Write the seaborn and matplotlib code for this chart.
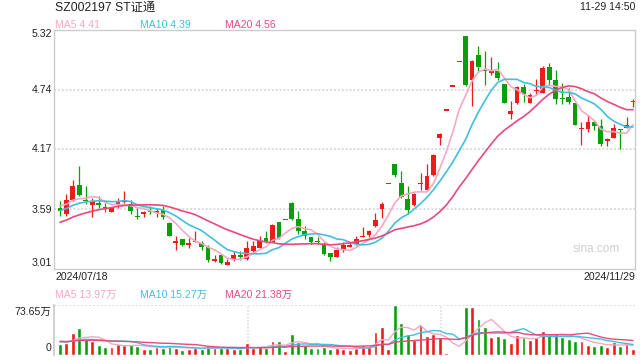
import numpy as np
import pandas as pd
import matplotlib
matplotlib.use("Agg")
import matplotlib.pyplot as plt
import seaborn as sns

TITLE = "SZ002197 ST证通"
STAMP = "11-29 14:50"
START_LABEL = "2024/07/18"
END_LABEL = "2024/11/29"

# daily OHLC, 2024/07/18 .. 2024/11/29
open_ = [3.603, 3.545, 3.673, 3.824, 3.680, 3.625, 3.644, 3.612, 3.561, 3.625,
         3.657, 3.638, 3.519, 3.539, 3.571, 3.555, 3.584, 3.455, 3.263, 3.295,
         3.237, 3.269, 3.263, 3.221, 3.083, 3.147, 3.045, 3.093, 3.147, 3.102,
         3.179, 3.215, 3.308, 3.269, 3.462, 3.482, 3.648, 3.494, 3.375, 3.317,
         3.276, 3.253, 3.167, 3.128, 3.203, 3.225, 3.251, 3.315, 3.341, 3.421,
         3.594, 3.830, 4.021, 3.844, 3.684, 3.626, 3.828, 3.771, 3.915, 4.271,
         4.540, 4.770, 5.010, 5.260, 4.839, 5.073, 4.922, 4.906, 4.919, 4.797,
         4.502, 4.614, 4.765, 4.614, 4.730, 4.710, 4.961, 4.832, 4.655, 4.672,
         4.614, 4.362, 4.358, 4.428, 4.390, 4.245, 4.277, 4.353, 4.374, 4.619]
high = [3.664, 3.737, 3.869, 4.007, 3.814, 3.696, 3.718, 3.648, 3.606, 3.696,
        3.760, 3.680, 3.600, 3.574, 3.616, 3.600, 3.616, 3.465, 3.327, 3.301,
        3.308, 3.381, 3.285, 3.237, 3.147, 3.157, 3.109, 3.179, 3.179, 3.276,
        3.276, 3.333, 3.375, 3.446, 3.468, 3.486, 3.654, 3.574, 3.423, 3.317,
        3.317, 3.269, 3.167, 3.221, 3.267, 3.267, 3.325, 3.418, 3.389, 3.546,
        3.661, 3.830, 4.021, 3.957, 3.812, 3.742, 3.941, 4.021, 4.117, 4.326,
        4.540, 4.770, 5.010, 5.260, 5.028, 5.166, 5.111, 5.054, 5.009, 4.797,
        4.630, 4.775, 4.800, 4.710, 4.845, 4.967, 4.999, 4.935, 4.807, 4.759,
        4.614, 4.428, 4.492, 4.447, 4.454, 4.277, 4.412, 4.358, 4.476, 4.653]
low = [3.526, 3.519, 3.664, 3.712, 3.641, 3.510, 3.600, 3.558, 3.558, 3.600,
       3.650, 3.539, 3.494, 3.513, 3.545, 3.510, 3.494, 3.327, 3.190, 3.231,
       3.215, 3.269, 3.195, 3.077, 3.077, 3.061, 3.045, 3.083, 3.093, 3.093,
       3.173, 3.211, 3.260, 3.269, 3.301, 3.482, 3.487, 3.350, 3.301, 3.253,
       3.247, 3.147, 3.090, 3.125, 3.177, 3.219, 3.244, 3.315, 3.321, 3.411,
       3.507, 3.830, 3.902, 3.700, 3.540, 3.620, 3.774, 3.764, 3.908, 4.207,
       4.540, 4.770, 5.010, 4.775, 4.582, 4.919, 4.784, 4.880, 4.832, 4.614,
       4.454, 4.605, 4.621, 4.614, 4.694, 4.710, 4.791, 4.598, 4.605, 4.605,
       4.396, 4.207, 4.335, 4.348, 4.197, 4.197, 4.271, 4.165, 4.367, 4.573]
close = [3.574, 3.680, 3.814, 3.721, 3.667, 3.670, 3.625, 3.596, 3.603, 3.664,
         3.670, 3.568, 3.510, 3.558, 3.558, 3.561, 3.513, 3.333, 3.279, 3.237,
         3.263, 3.282, 3.221, 3.099, 3.109, 3.070, 3.077, 3.147, 3.122, 3.215,
         3.231, 3.276, 3.276, 3.439, 3.308, 3.486, 3.494, 3.372, 3.324, 3.269,
         3.269, 3.157, 3.128, 3.189, 3.241, 3.231, 3.299, 3.325, 3.373, 3.482,
         3.642, 3.830, 3.915, 3.706, 3.578, 3.732, 3.844, 3.908, 4.107, 4.316,
         4.540, 4.770, 5.010, 4.791, 5.022, 4.961, 4.919, 4.929, 4.855, 4.614,
         4.540, 4.768, 4.701, 4.688, 4.736, 4.951, 4.839, 4.653, 4.651, 4.624,
         4.396, 4.366, 4.431, 4.390, 4.220, 4.268, 4.374, 4.349, 4.399, 4.623]
# volume in 万
volume = [16.0, 17.0, 32.6, 39.4, 23.3, 20.4, 14.6, 11.2, 11.7, 16.0,
          14.1, 16.0, 13.1, 8.7, 9.2, 11.2, 10.7, 14.6, 10.7, 7.3,
          8.7, 10.2, 8.7, 13.1, 9.7, 9.7, 9.7, 8.3, 8.3, 17.5,
          9.7, 13.1, 10.7, 20.4, 20.4, 6.3, 30.6, 19.4, 14.1, 10.7,
          9.7, 12.2, 8.7, 9.7, 8.7, 7.3, 9.7, 14.6, 12.2, 34.0,
          40.8, 8.7, 72.9, 47.2, 30.6, 21.9, 43.7, 27.7, 30.6, 26.2,
          2.9, 1.5, 1.5, 70.0, 70.0, 52.5, 40.8, 26.2, 27.7, 24.8,
          17.5, 29.2, 25.8, 21.9, 25.8, 35.0, 32.1, 32.1, 26.7, 23.3,
          20.4, 20.9, 14.6, 13.1, 14.6, 11.7, 19.4, 13.6, 16.0, 8.7]

# sessions before the window, only feed the moving averages
prev_close = [3.22, 3.25, 3.28, 3.30, 3.33, 3.36, 3.38, 3.40, 3.42, 3.52,
              3.48, 3.50, 3.52, 3.55, 3.59, 3.60, 3.62, 3.65, 3.654]
prev_volume = [22, 18, 25, 20, 17, 21, 19, 24, 18, 20,
               23, 19, 21, 17, 22, 20, 18, 21, 19]

price_ticks = [5.32, 4.74, 4.17, 3.59, 3.01]
vol_top = 73.65
ma_windows = [5, 10, 20]
ma_colors = ["#f7a8c3", "#40c0de", "#e9497b"]
ma_price_labels = ["MA5 4.41", "MA10 4.39", "MA20 4.56"]
ma_vol_labels = ["MA5 13.97万", "MA10 15.27万", "MA20 21.38万"]

RED = "#ee1b1b"
GREEN = "#0b9e0b"
GRID = "#dcdcdc"
FRAME = "#cccccc"

sns.set_theme(style="white")
plt.rcParams["font.family"] = ["Liberation Sans", "Noto Sans CJK SC"]


def moving_averages(prev, values):
    s = pd.Series(list(prev) + list(values), dtype=float)
    n = len(values)
    return {w: s.rolling(w).mean().to_numpy()[-n:] for w in ma_windows}


def px(x, y):
    return x / 640, 1 - y / 360


def main():
    n = len(close)
    idx = np.arange(n)
    o = np.array(open_)
    c = np.array(close)
    up = c >= o
    colors = np.where(up, RED, GREEN)

    fig = plt.figure(figsize=(6.4, 3.6), dpi=100)
    ax = fig.add_axes([54 / 640, 91 / 360, 581 / 640, 239.3 / 360])
    axv = fig.add_axes([54 / 640, 5 / 360, 581 / 640, 50.5 / 360])

    # price panel
    for t in price_ticks[1:-1]:
        ax.axhline(t, color=GRID, lw=1.4, ls=(0, (1, 1)), zorder=0)
    ax.vlines(idx, low, high, colors=colors, lw=0.9, zorder=2)
    body = np.maximum(np.abs(c - o), 0.012)
    ax.bar(idx, body, bottom=np.minimum(o, c), width=0.74, color=colors,
           linewidth=0, zorder=2)

    ma = moving_averages(prev_close, close)
    for w, col in zip(ma_windows, ma_colors):
        sns.lineplot(x=idx, y=ma[w], color=col, lw=1.2, ax=ax, zorder=3)

    ax.set_xlim(-0.93, 89.31)
    ax.set_ylim(price_ticks[-1], price_ticks[0])
    ax.set_xticks([])
    ax.set_yticks([])
    for sp in ax.spines.values():
        sp.set_color(FRAME)
        sp.set_linewidth(1.0)
    ax.text(0.974, 0.085, "sina.com", transform=ax.transAxes, ha="right",
            va="center", fontsize=8.5, color="#cfcfcf")

    # volume panel
    vol_df = pd.DataFrame({"day": idx, "volume": volume,
                           "side": np.where(up, "up", "down")})
    sns.barplot(data=vol_df, x="day", y="volume", hue="side",
                palette={"up": RED, "down": GREEN}, dodge=False, width=0.6,
                errorbar=None, legend=False, saturation=1, ax=axv, zorder=2)
    vma = moving_averages(prev_volume, volume)
    for w, col in zip(ma_windows, ma_colors):
        sns.lineplot(x=idx, y=vma[w], color=col, lw=1.0, ax=axv, zorder=3)
    axv.axhline(vol_top, color=GRID, lw=1.4, ls=(0, (1, 1)), zorder=0)
    for f in (1 / 3, 2 / 3):
        axv.plot([f, f], [0, 1], transform=axv.transAxes, color=GRID, lw=1.2,
                 ls=(0, (1, 1)), zorder=0)
    axv.set_xlim(-0.93, 89.31)
    axv.set_ylim(0, vol_top)
    axv.set_xticks([])
    axv.set_yticks([])
    axv.set_xlabel("")
    axv.set_ylabel("")
    for name, sp in axv.spines.items():
        sp.set_visible(name == "left")
        sp.set_color(FRAME)

    # texts
    small = 7.6
    fig.text(*px(55, 7.5), TITLE, fontsize=8.8, va="center", color="#222222")
    fig.text(*px(635, 7.5), STAMP, fontsize=small, ha="right", va="center",
             color="#222222")
    for x0, lab, col in zip([55, 140, 225], ma_price_labels, ma_colors):
        fig.text(*px(x0, 24.5), lab, fontsize=small, va="center", color=col)
    for x0, lab, col in zip([55, 140, 225], ma_vol_labels, ma_colors):
        fig.text(*px(x0, 294.5), lab, fontsize=small, va="center", color=col)
    tick_y = [34.3, 89.7, 148.7, 209.7, 263.3]
    for t, y in zip(price_ticks, tick_y):
        fig.text(*px(52, y), f"{t:.2f}", fontsize=small, ha="right",
                 va="center", color="#222222")
    fig.text(*px(55, 277.5), START_LABEL, fontsize=small, va="center",
             color="#222222")
    fig.text(*px(635, 277.5), END_LABEL, fontsize=small, ha="right",
             va="center", color="#222222")
    fig.text(*px(51, 311.5), f"{vol_top:.2f}万", fontsize=small, ha="right",
             va="center", color="#222222")
    fig.text(*px(51, 348.3), "0", fontsize=small, ha="right", va="center",
             color="#222222")

    fig.savefig("out.png", dpi=100, facecolor="white")


if __name__ == "__main__":
    main()
